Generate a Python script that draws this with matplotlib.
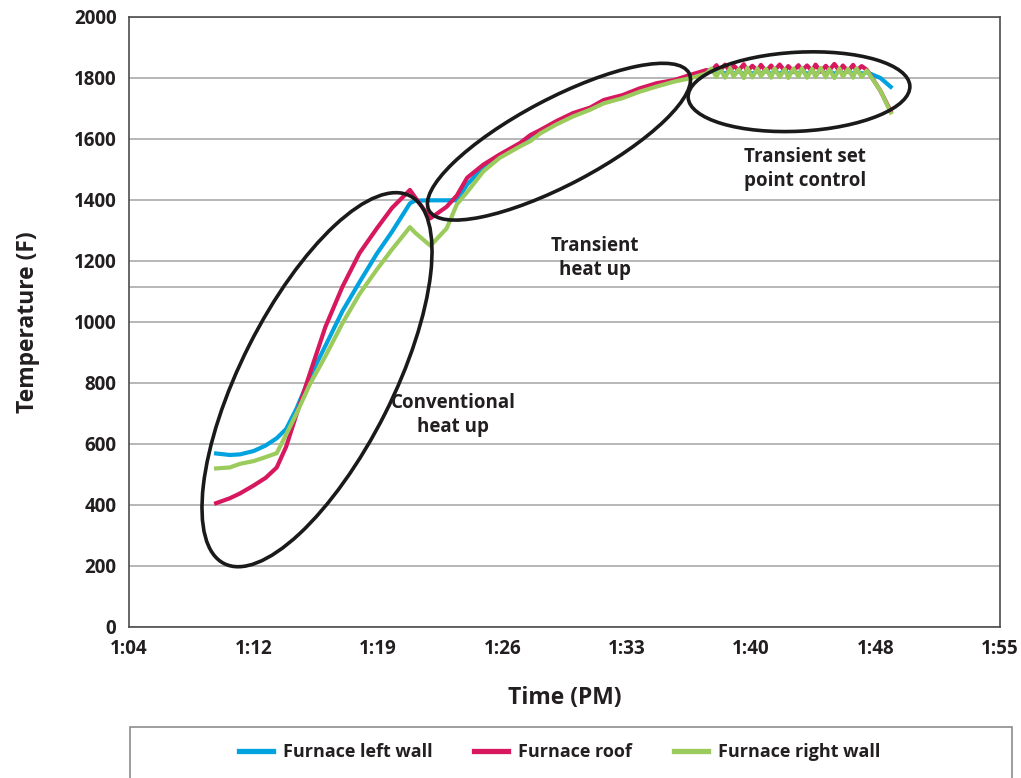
import matplotlib
matplotlib.use("Agg")
import matplotlib.pyplot as plt
from matplotlib.patches import Ellipse, Rectangle
from matplotlib.lines import Line2D
from matplotlib.transforms import Affine2D

plt.rcParams["font.family"] = ["Open Sans", "DejaVu Sans"]
plt.rcParams["font.weight"] = "bold"
plt.rcParams["axes.labelweight"] = "bold"

# --------------------------------------------------------------------------- #
# data  (time = minutes after 1:00 PM, temperature in F)
# --------------------------------------------------------------------------- #
time_min = [
    9.1, 9.9, 10.5, 11.3, 12.0, 12.65, 13.2, 13.8, 14.6, 15.5, 16.5, 17.5,
    18.5, 19.4, 20.45, 20.75, 21.65, 22.6, 23.2, 23.8, 24.75, 25.7, 26.9,
    27.5, 28.1, 29.0, 30.0, 31.0, 31.8, 32.9, 33.9, 34.9, 35.9, 36.85, 37.8,
    38.1, 38.4, 38.6, 38.9, 39.2, 39.4, 39.7, 40.0, 40.2, 40.5, 40.8, 41.0,
    41.3, 41.6, 41.8, 42.1, 42.4, 42.6, 42.9, 43.2, 43.4, 43.7, 44.0, 44.2,
    44.5, 44.8, 45.0, 45.3, 45.6, 45.8, 46.1, 46.4, 46.6, 46.9, 47.2,
    48.0, 48.6,
]

left_wall = [
    568, 563, 565, 576, 594, 618, 648, 714, 820, 921, 1035, 1130,
    1222, 1295, 1388, 1397, 1398, 1398, 1398, 1450, 1505, 1543, 1580,
    1600, 1622, 1650, 1678, 1698, 1720, 1738, 1758, 1776, 1789, 1803, 1815,
    1823, 1812, 1822, 1813, 1824, 1812, 1821, 1811, 1823, 1813, 1822, 1812,
    1824, 1811, 1822, 1813, 1823, 1812, 1821, 1813, 1824, 1812, 1822, 1811,
    1823, 1813, 1822, 1812, 1824, 1813, 1822, 1812, 1823, 1813, 1818,
    1799, 1770,
]

roof = [
    405, 421, 437, 463, 488, 522, 590, 695, 832, 983, 1115, 1225,
    1305, 1373, 1432, 1408, 1339, 1377, 1414, 1472, 1515, 1548, 1586,
    1612, 1629, 1657, 1684, 1702, 1727, 1743, 1765, 1782, 1792, 1809, 1825,
    1822, 1841, 1823, 1843, 1821, 1840, 1824, 1844, 1822, 1839, 1823, 1842,
    1821, 1840, 1824, 1843, 1822, 1838, 1821, 1841, 1823, 1840, 1822, 1843,
    1820, 1839, 1824, 1845, 1822, 1840, 1821, 1842, 1823, 1838, 1826,
    1757, 1690,
]

right_wall = [
    519, 522, 534, 543, 556, 569, 630, 698, 796, 887, 995, 1091,
    1170, 1237, 1310, 1292, 1249, 1306, 1385, 1425, 1493, 1537, 1575,
    1592, 1618, 1646, 1673, 1695, 1716, 1733, 1754, 1771, 1787, 1798, 1814,
    1830, 1802, 1829, 1800, 1831, 1803, 1828, 1799, 1832, 1801, 1830, 1804,
    1829, 1800, 1831, 1802, 1828, 1799, 1830, 1803, 1831, 1800, 1829, 1802,
    1832, 1801, 1828, 1799, 1830, 1803, 1829, 1800, 1831, 1802, 1824,
    1757, 1686,
]

x_ticks = [4, 11.2857, 18.5714, 25.8571, 33.1429, 40.4286, 47.7143, 55]
x_tick_labels = ["1:04", "1:12", "1:19", "1:26", "1:33", "1:40", "1:48", "1:55"]
y_ticks = [0, 200, 400, 600, 800, 1000, 1200, 1400, 1600, 1800, 2000]
stray_grid = [1113]

series = [
    ("Furnace left wall", left_wall, "#00a3df"),
    ("Furnace roof", roof, "#d7175e"),
    ("Furnace right wall", right_wall, "#9bcb5c"),
]

# annotation callouts: (label, text x [min], text y [F])
callouts = [
    ("Conventional\nheat up", 23.0, 694),
    ("Transient\nheat up", 31.3, 1209),
    ("Transient set\npoint control", 43.6, 1500),
]

# ellipses drawn in axes pixel space: (cx, cy, width, height, angle)
ellipses = [
    (188, 247, 412, 152, 63.2),
    (430, 485, 294, 86, 27.8),
    (670, 535, 222, 79, 3),
]

TEXT = "#231f20"
GRID = "#a3a3a3"

# --------------------------------------------------------------------------- #
# figure
# --------------------------------------------------------------------------- #
fig = plt.figure(figsize=(10.21, 7.78), dpi=100)
ax = fig.add_axes([129 / 1021, 1 - 626.7 / 778, 871 / 1021, 610 / 778])

for label, vals, color in series:
    ax.plot(time_min, vals, color=color, linewidth=3.0, label=label,
            solid_joinstyle="round", zorder=3)

ax.set_xlim(4, 55)
ax.set_ylim(0, 2000)
ax.set_xticks(x_ticks)
ax.set_xticklabels(x_tick_labels)
ax.set_yticks(y_ticks)
ax.tick_params(length=0, labelsize=13.5, colors=TEXT)
ax.tick_params(axis="y", pad=9)
ax.tick_params(axis="x", pad=9)

ax.yaxis.grid(True, color=GRID, linewidth=1.1)
for g in stray_grid:
    ax.axhline(g, color=GRID, linewidth=1.1, zorder=0.5)
ax.set_axisbelow(True)
for sp in ax.spines.values():
    sp.set_color("#4d4d4d")
    sp.set_linewidth(1.2)

ax.set_ylabel("Temperature (F)", fontsize=16.5, color=TEXT, labelpad=24)
ax.set_xlabel("Time (PM)", fontsize=16.5, color=TEXT, labelpad=19)

# callout ellipses (pixel-space so the shape is not skewed by the data scales)
px = Affine2D().scale(1 / 871, 1 / 610) + ax.transAxes
for cx, cy, w, h, ang in ellipses:
    ax.add_patch(Ellipse((cx, cy), w, h, angle=ang, transform=px,
                         fill=False, edgecolor="#1a1a1a", linewidth=2.6,
                         zorder=4, clip_on=False))

for txt, tx, ty in callouts:
    ax.text(tx, ty, txt, ha="center", va="center", fontsize=13.5,
            fontweight="bold", color=TEXT, linespacing=1.25, zorder=5)

# legend box (runs off the bottom edge like the source)
fig.patches.append(Rectangle((130 / 1021, -0.05), 882 / 1021, 0.05 + 51 / 778,
                             transform=fig.transFigure, fill=False,
                             edgecolor="#8c8c8c", linewidth=1.2))
handles = [Line2D([], [], color=c, linewidth=3.8) for _, _, c in series]
fig.legend(handles, [s[0] for s in series], loc="center",
           bbox_to_anchor=(0.548, 26 / 778), ncol=3, frameon=False,
           prop={"size": 13, "weight": "bold"}, handlelength=1.9,
           handletextpad=0.55, columnspacing=2.3, labelcolor=TEXT)

fig.savefig("out.png", dpi=100)
plt.close(fig)
